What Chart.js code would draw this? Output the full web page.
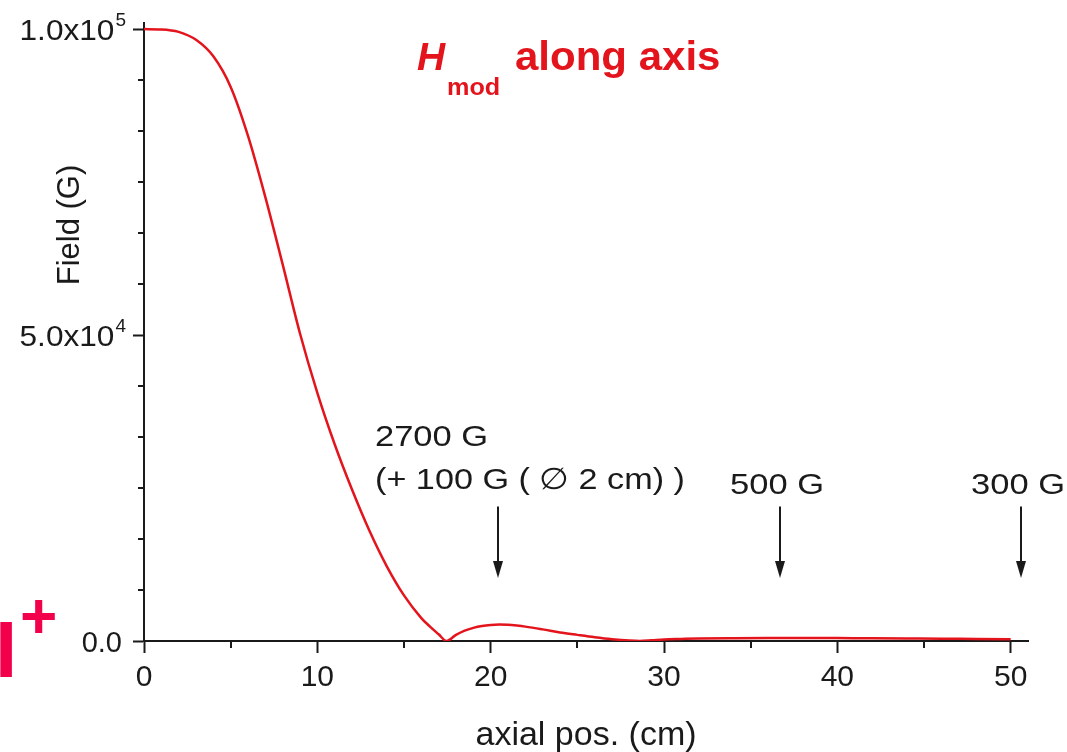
<!DOCTYPE html>
<html>
<head>
<meta charset="utf-8">
<script src="https://cdn.jsdelivr.net/npm/chart.js@4.4.1/dist/chart.umd.min.js"></script>
<style>
  html, body { margin: 0; padding: 0; background: #fff; }
  #wrap { width: 1067px; height: 752px; }
</style>
</head>
<body>
<div id="wrap"><canvas id="field-chart" width="1067" height="752"></canvas></div>
<script>
// field along the axis (cm, gauss)
const axialPos = [0, 1, 2, 3, 4, 5, 6, 7, 8, 9, 10, 11, 12, 13, 14, 15, 16, 16.5, 17, 17.45,
  18, 18.5, 19, 19.5, 20, 20.5, 21, 21.5, 22, 23, 24, 25, 26, 27, 28, 28.6, 29.3, 30, 31, 32,
  34, 36, 38, 40, 42, 44, 46, 48, 50];
const fieldG = [100000, 99950, 99550, 98250, 95550, 90550, 82550, 72550, 61550, 50250, 40550, 32150, 24750, 18050, 12250, 7450, 3750, 2350, 1100, 0,
  1000, 1700, 2150, 2450, 2620, 2700, 2650, 2520, 2350, 1900, 1400, 1000, 620, 300, 70, 0, 120, 250, 330, 400,
  460, 490, 490, 470, 440, 410, 380, 340, 300];

const xMajor = [0, 10, 20, 30, 40, 50];
const yMajor = [0, 50000, 100000];
const yMantissa = ['0.0', '5.0', '1.0'];
const yExponent = ['', '4', '5'];

// arrows with their notes
const markPos = [20.4, 36.7, 50.6];
const markTop = [22000, 22000, 22000];
const markTip = [10300, 10300, 10300];
const markText = [['2700 G', '(+ 100 G ( \u2205 2 cm) )'], ['500 G'], ['300 G']];

const FONT = "'Liberation Sans', Arial, sans-serif";
const INK = '#1a1a1a';
const RED = '#e3141c';

function wideText(ctx, text, x, y, sx) {
  ctx.save();
  ctx.translate(x, y);
  ctx.scale(sx, 1);
  ctx.fillText(text, 0, 0);
  ctx.restore();
}

const decor = {
  id: 'decor',
  afterDraw(chart) {
    const ctx = chart.ctx;
    const x = chart.scales.x;
    const y = chart.scales.y;
    const area = chart.chartArea;
    ctx.save();

    // minor ticks
    ctx.strokeStyle = INK;
    ctx.lineWidth = 2;
    for (let i = 0; i < xMajor.length - 1; i++) {
      const v = (xMajor[i] + xMajor[i + 1]) / 2;
      const px = Math.round(x.getPixelForValue(v));
      ctx.beginPath();
      ctx.moveTo(px, area.bottom);
      ctx.lineTo(px, area.bottom + 7);
      ctx.stroke();
    }
    for (let i = 0; i < yMajor.length - 1; i++) {
      const step = (yMajor[i + 1] - yMajor[i]) / 6;
      for (let k = 1; k < 6; k++) {
        const py = Math.round(y.getPixelForValue(yMajor[i] + k * step));
        ctx.beginPath();
        ctx.moveTo(area.left - 6, py);
        ctx.lineTo(area.left, py);
        ctx.stroke();
      }
    }

    // y tick labels with exponents
    ctx.fillStyle = INK;
    ctx.textBaseline = 'alphabetic';
    yMajor.forEach((v, i) => {
      const py = y.getPixelForValue(v);
      let right = area.left - 18;
      ctx.textAlign = 'right';
      if (yExponent[i]) {
        ctx.font = '19px ' + FONT;
        ctx.fillText(yExponent[i], right, py - 3);
        right -= ctx.measureText(yExponent[i]).width + 1;
        ctx.font = '29px ' + FONT;
        wideText(ctx, yMantissa[i] + 'x10', right, py + 11, 1.09);
      } else {
        ctx.font = '29px ' + FONT;
        ctx.fillText(yMantissa[i], area.left - 22, py + 11);
      }
    });

    // axis titles
    ctx.textAlign = 'center';
    ctx.font = '34px ' + FONT;
    ctx.fillText('axial pos. (cm)', (area.left + area.right) / 2, 745);
    ctx.font = '31px ' + FONT;
    ctx.save();
    ctx.translate(79, 225);
    ctx.rotate(-Math.PI / 2);
    ctx.fillText('Field (G)', 0, 0);
    ctx.restore();

    // plot title
    ctx.fillStyle = RED;
    ctx.textAlign = 'left';
    ctx.font = 'italic bold 39px ' + FONT;
    ctx.fillText('H', 417, 70);
    ctx.font = 'bold 24px ' + FONT;
    wideText(ctx, 'mod', 447, 95, 1.05);
    ctx.font = 'bold 40px ' + FONT;
    wideText(ctx, 'along axis', 515, 70, 1.05);

    // arrows and notes
    ctx.fillStyle = INK;
    ctx.strokeStyle = INK;
    markPos.forEach((v, i) => {
      const px = Math.round(x.getPixelForValue(v));
      const top = y.getPixelForValue(markTop[i]);
      const tip = y.getPixelForValue(markTip[i]);
      ctx.lineWidth = 2;
      ctx.beginPath();
      ctx.moveTo(px, top);
      ctx.lineTo(px, tip - 12);
      ctx.stroke();
      ctx.beginPath();
      ctx.moveTo(px - 5, tip - 17);
      ctx.lineTo(px + 5, tip - 17);
      ctx.lineTo(px, tip);
      ctx.closePath();
      ctx.fill();

      ctx.font = '30px ' + FONT;
      const lines = markText[i];
      if (lines.length > 1) {
        ctx.textAlign = 'left';
        wideText(ctx, lines[0], px - 123, top - 60, 1.15);
        wideText(ctx, lines[1], px - 123, top - 17, 1.14);
      } else {
        ctx.textAlign = 'center';
        wideText(ctx, lines[0], px - 3, top - 12, 1.15);
      }
    });

    // clipped slide glyph at the lower left
    ctx.fillStyle = '#f2004c';
    ctx.textAlign = 'left';
    ctx.font = 'bold 80px ' + FONT;
    ctx.fillText('I', -5, 677);
    ctx.font = 'bold 64px ' + FONT;
    ctx.fillText('+', 20, 638);

    ctx.restore();
  }
};

const ctx = document.getElementById('field-chart').getContext('2d');
new Chart(ctx, {
  type: 'line',
  data: {
    datasets: [{
      data: axialPos.map((p, i) => ({ x: p, y: fieldG[i] })),
      borderColor: RED,
      borderWidth: 2.5,
      pointRadius: 0,
      fill: false,
      cubicInterpolationMode: 'monotone'
    }]
  },
  options: {
    responsive: false,
    animation: false,
    layout: { padding: { top: 23, right: 39, left: 0, bottom: 0 } },
    plugins: { legend: { display: false }, tooltip: { enabled: false } },
    scales: {
      x: {
        type: 'linear',
        min: 0,
        max: 51,
        afterBuildTicks: s => { s.ticks = xMajor.map(v => ({ value: v })); },
        afterFit: s => { s.height = 111; },
        ticks: { color: INK, font: { family: FONT, size: 30 }, padding: 7, maxRotation: 0, autoSkip: false },
        grid: { drawOnChartArea: false, tickLength: 12, tickWidth: 2, tickColor: INK },
        border: { color: INK, width: 2 }
      },
      y: {
        type: 'linear',
        min: 0,
        max: 101000,
        afterBuildTicks: s => { s.ticks = yMajor.map(v => ({ value: v })); },
        afterFit: s => { s.width = 144; },
        ticks: { display: false },
        grid: { drawOnChartArea: false, tickLength: 11, tickWidth: 2, tickColor: INK },
        border: { color: INK, width: 2 }
      }
    }
  },
  plugins: [decor]
});
</script>
</body>
</html>
